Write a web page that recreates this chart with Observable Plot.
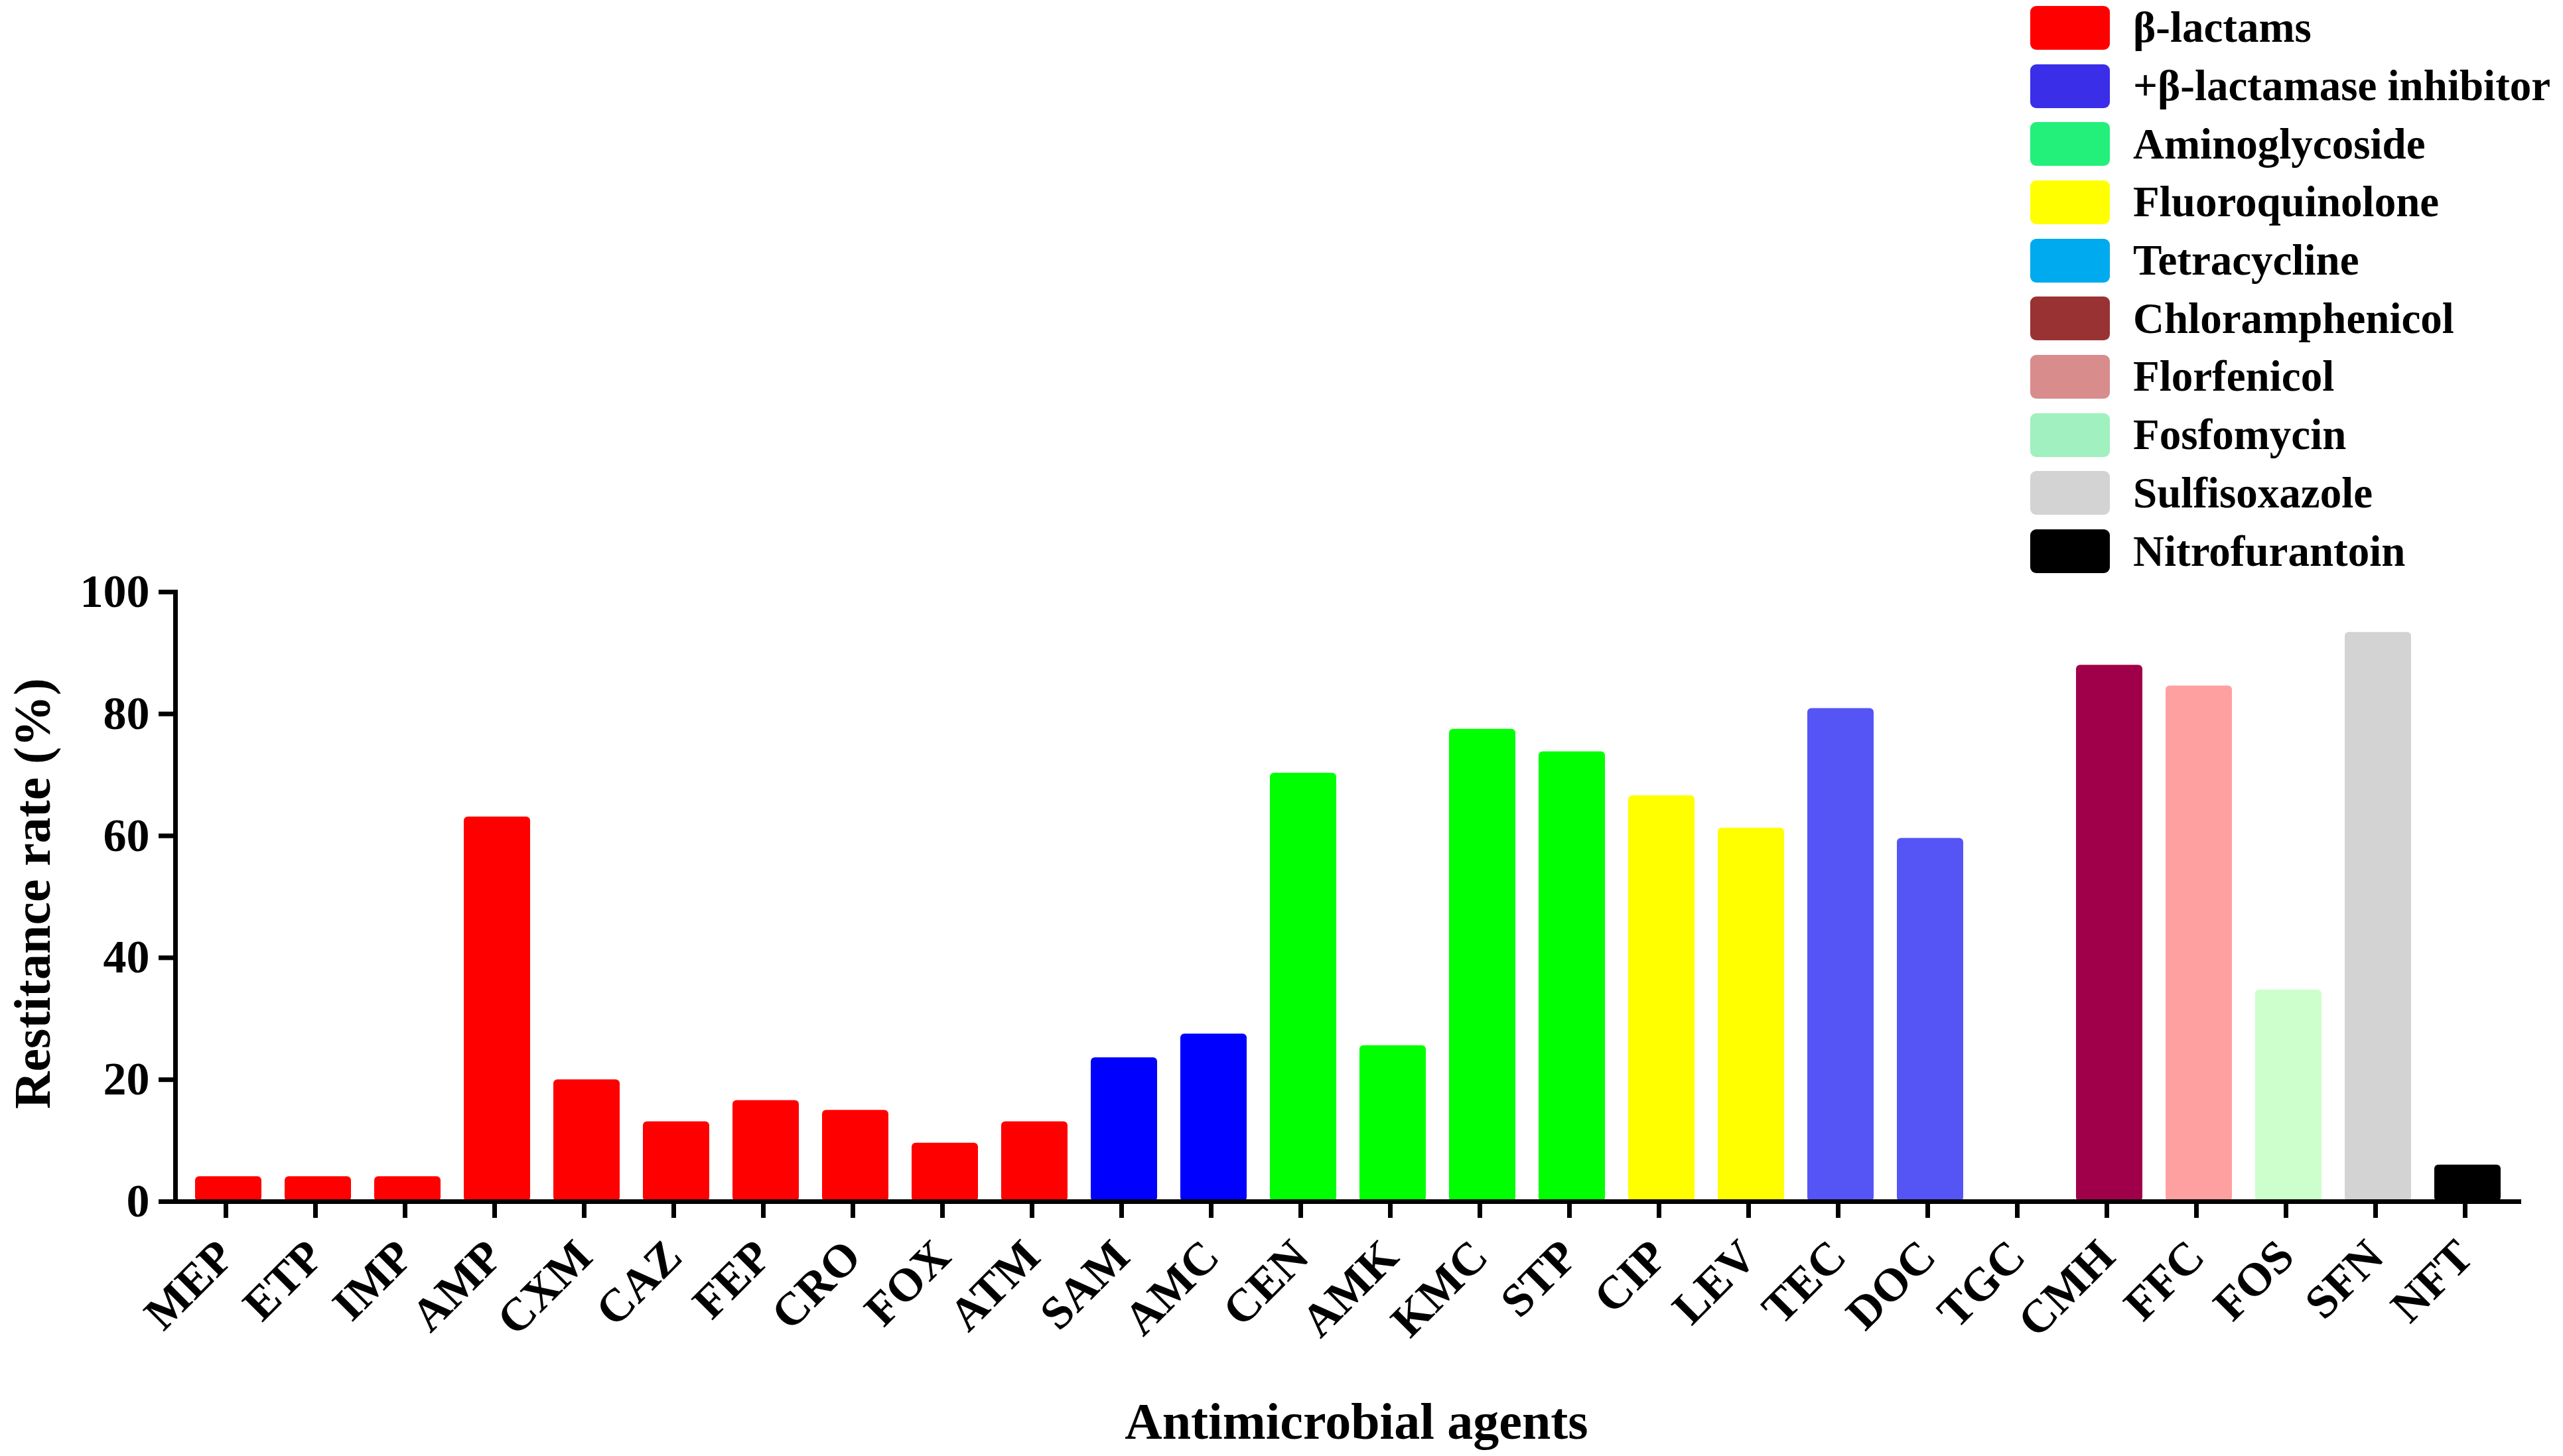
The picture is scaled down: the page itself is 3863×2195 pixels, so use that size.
<!DOCTYPE html>
<html><head><meta charset="utf-8">
<script src="https://cdn.jsdelivr.net/npm/d3@7"></script>
<script src="https://cdn.jsdelivr.net/npm/@observablehq/plot@0.6"></script>
<style>
body{margin:0;background:#fff;}
#wrap{position:relative;width:3863px;height:2195px;overflow:hidden;}
#legend{position:absolute;left:3060px;top:-2px;font-family:"Liberation Serif","Times New Roman",serif;font-weight:bold;font-size:65px;color:#000;}
.row{display:flex;align-items:center;height:87.7px;white-space:nowrap;}
.sw{width:120px;height:66px;border-radius:9px;margin-right:35px;flex:none;}
</style></head><body>
<div id="wrap"><div id="chart"></div><div id="legend"></div></div>
<script>
const agents = ["MEP","ETP","IMP","AMP","CXM","CAZ","FEP","CRO","FOX","ATM","SAM","AMC","CEN","AMK","KMC","STP","CIP","LEV","TEC","DOC","TGC","CMH","FFC","FOS","SFN","NFT"];
const rates = [4.1,4.1,4.1,63.1,20.0,13.1,16.6,15.0,9.6,13.1,23.6,27.5,70.3,25.6,77.5,73.8,66.6,61.3,80.9,59.6,0,88.0,84.6,34.7,93.4,6.0];
const barColors = ["#ff0000","#ff0000","#ff0000","#ff0000","#ff0000","#ff0000","#ff0000","#ff0000","#ff0000","#ff0000",
  "#0000ff","#0000ff","#00ff00","#00ff00","#00ff00","#00ff00","#ffff00","#ffff00","#5555f5","#5555f5","#5555f5",
  "#a0004a","#ffa0a0","#ccffcc","#d3d3d3","#000000"];
const legendLabels = ["β-lactams","+β-lactamase inhibitor","Aminoglycoside","Fluoroquinolone","Tetracycline","Chloramphenicol","Florfenicol","Fosfomycin","Sulfisoxazole","Nitrofurantoin"];
const legendColors = ["#ff0000","#3a2ee8","#22f07a","#ffff00","#00aaee","#993333","#d98c8c","#a0f0c0","#d3d3d3","#000000"];
const yTicks = [0,20,40,60,80,100];
const yLabel = "Restitance rate (%)";
const xLabel = "Antimicrobial agents";

const data = agents.map((a,i)=>({agent:a, rate:rates[i], color:barColors[i]}));
const font = "'Liberation Serif','Times New Roman',serif";

const chart = Plot.plot({
  width:3863, height:2195,
  marginLeft:264, marginRight:63, marginTop:892, marginBottom:384,
  style:{fontFamily:font, fontWeight:"bold", background:"white", color:"black"},
  x:{domain:agents, paddingInner:0.256, paddingOuter:0.148, label:null},
  y:{domain:[0,100], label:null},
  marks:[
    Plot.barY(data,{x:"agent", y:"rate", fill:"color", rx:6}),
    Plot.ruleY([0],{stroke:"black", strokeWidth:7}),
    Plot.frame({anchor:"left", stroke:"black", strokeWidth:7}),
    Plot.axisX({tickSize:25, tickRotate:-45, fontSize:70, tickPadding:46, strokeWidth:7, label:null, dx:-4}),
    Plot.axisY({ticks:yTicks, tickSize:25, fontSize:70, tickPadding:14, strokeWidth:7, label:null}),
    Plot.text([yLabel],{text:d=>d, frameAnchor:"left", textAnchor:"middle", lineAnchor:"middle", dx:-214, dy:-5, rotate:-90, fontSize:78, fontWeight:"bold"}),
    Plot.text([xLabel],{text:d=>d, frameAnchor:"bottom", textAnchor:"middle", lineAnchor:"middle", dx:12, dy:333, fontSize:78, fontWeight:"bold"})
  ]
});
document.getElementById("chart").appendChild(chart);

const legend = d3.select("#legend");
legendLabels.forEach((l,i)=>{
  const r = legend.append("div").attr("class","row");
  r.append("div").attr("class","sw").style("background",legendColors[i]);
  r.append("span").text(l);
});
</script>
</body></html>
